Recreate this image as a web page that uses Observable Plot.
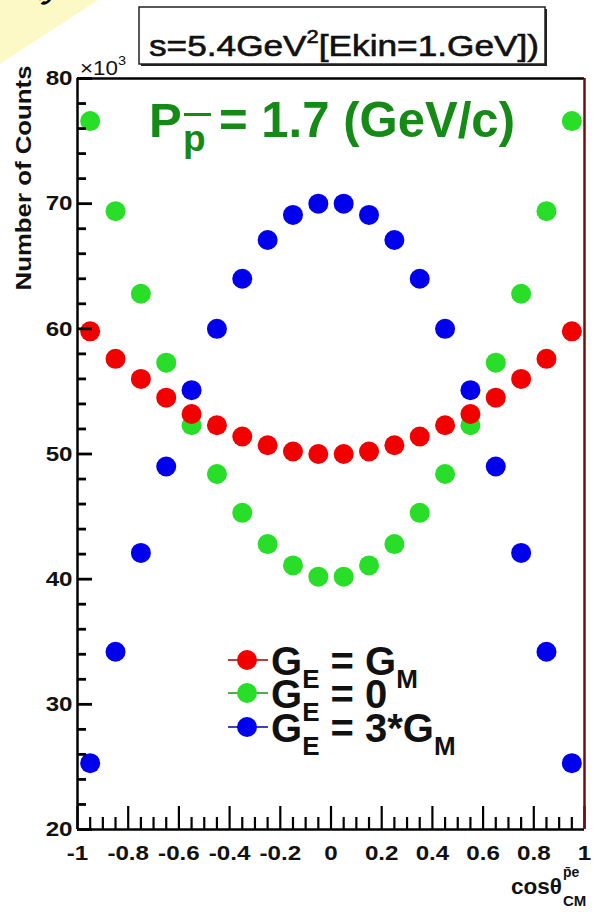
<!DOCTYPE html>
<html><head><meta charset="utf-8">
<script src="https://cdn.jsdelivr.net/npm/d3@7"></script>
<script src="https://cdn.jsdelivr.net/npm/@observablehq/plot@0.6"></script>
<style>
body{margin:0;background:#fff;}
#wrap{position:relative;width:595px;height:914px;overflow:hidden;}
</style></head><body>
<div id="wrap"></div>
<script>
// angle bins (cos theta, CM)
const cosTheta = [-0.95,-0.85,-0.75,-0.65,-0.55,-0.45,-0.35,-0.25,-0.15,-0.05,0.05,0.15,0.25,0.35,0.45,0.55,0.65,0.75,0.85,0.95];
// counts in units of 10^3
const countsGEeqGM = [59.8,57.6,56.0,54.5,53.2,52.3,51.4,50.7,50.2,50.0,50.0,50.2,50.7,51.4,52.3,53.2,54.5,56.0,57.6,59.8];
const countsGE0 = [76.6,69.4,62.8,57.3,52.3,48.4,45.3,42.8,41.1,40.2,40.2,41.1,42.8,45.3,48.4,52.3,57.3,62.8,69.4,76.6];
const countsGE3GM = [25.3,34.2,42.1,49.0,55.1,60.0,64.0,67.1,69.1,70.0,70.0,69.1,67.1,64.0,60.0,55.1,49.0,42.1,34.2,25.3];
const seriesKeys = ["GE=GM","GE=0","GE=3GM"];
const seriesColors = ["#f20000","#28de28","#0000ec"];
const legendParts = [["G","E"," = G","M"],["G","E"," = 0",""],["G","E"," = 3*G","M"]];
const xTickValues = [-1,-0.8,-0.6,-0.4,-0.2,0,0.2,0.4,0.6,0.8,1];
const yTickValues = [20,30,40,50,60,70,80];

const seriesValues = [countsGEeqGM, countsGE0, countsGE3GM];
const drawOrder = [1,2,0];
const rows = [];
for (const s of drawOrder) cosTheta.forEach((c,i)=>rows.push({x:c, y:seriesValues[s][i], series:seriesKeys[s]}));

const xMinor = d3.range(-1, 1.0001, 0.05).map(v=>+v.toFixed(2)).filter(v => !xTickValues.includes(v));
const yMinor = d3.range(20, 80.001, 2).filter(v => !yTickValues.includes(v));
const fmt = d => String(+(+d).toFixed(1));
const font = '"Liberation Sans",Arial,Helvetica,sans-serif';

const W = 595, H = 914, mT = 78, mB = 85, mL = 77, mR = 11;
const fw = W - mL - mR, fh = H - mT - mB;

const chart = Plot.plot({
  width: W, height: H,
  marginTop: mT, marginBottom: mB, marginLeft: mL, marginRight: mR,
  style: {fontFamily: font, background: "#fff", color: "#111"},
  x: {domain: [-1, 1]},
  y: {domain: [20, 80]},
  color: {domain: seriesKeys, range: seriesColors},
  marks: [
    Plot.axisX({ticks: xTickValues, tickSize: 0, tickPadding: 16, tickFormat: fmt, label: null, fontSize: 21, fontWeight: "bold", fill: "#111"}),
    Plot.axisY({ticks: yTickValues, tickSize: 0, tickPadding: 5, tickFormat: fmt, label: null, fontSize: 21, fontWeight: "bold", fill: "#111"}),
    Plot.dot(rows, {x: "x", y: "y", r: 10, fill: "series", stroke: null}),
    // inward ticks
    Plot.ruleX(xMinor, {x: d => d, insetTop: fh - 12, stroke: "#000", strokeWidth: 2.2}),
    Plot.ruleX(xTickValues, {x: d => d, insetTop: fh - 23, stroke: "#000", strokeWidth: 2.2}),
    Plot.ruleY(yMinor, {y: d => d, insetRight: fw - 9, stroke: "#000", strokeWidth: 2.8}),
    Plot.ruleY(yTickValues, {y: d => d, insetRight: fw - 15, stroke: "#000", strokeWidth: 2.8}),
    // frame
    Plot.ruleX([-1], {stroke: "#000", strokeWidth: 2.5}),
    Plot.ruleY([20, 80], {stroke: "#000", strokeWidth: 2.5}),
    Plot.ruleX([1], {stroke: "#6e1010", strokeWidth: 2.5})
  ]
});
document.getElementById("wrap").appendChild(chart);

// stretch tick labels slightly horizontally (as in the reference rendering)
chart.querySelectorAll('g[aria-label="x-axis tick label"] text, g[aria-label="y-axis tick label"] text').forEach(t => {
  t.setAttribute("transform", (t.getAttribute("transform") || "") + " scale(1.15,1)");
});

const svg = d3.select(chart);

// annotations
const ov = svg.append("g").attr("font-family", font).attr("fill", "#111").attr("text-anchor", "start");

// yellow corner note
ov.append("path").attr("d", "M0,0H98L0,64Z").attr("fill", "#fdf9c6");
ov.append("text").attr("transform", "translate(38,3) rotate(-36)").attr("font-size", 28).attr("font-weight", "bold").attr("fill", "#000").text("g");

// title box
ov.append("rect").attr("x", 141).attr("y", 9).attr("width", 406).attr("height", 57).attr("fill", "#222");
ov.append("rect").attr("x", 139).attr("y", 7).attr("width", 406).attr("height", 57).attr("fill", "#fff").attr("stroke", "#222").attr("stroke-width", 1.5);
const tt = ov.append("text").attr("x", 149).attr("y", 56).attr("font-size", 29).attr("stroke", "#111").attr("stroke-width", 0.6)
  .attr("textLength", 390).attr("lengthAdjust", "spacingAndGlyphs");
tt.append("tspan").text("s=5.4GeV");
tt.append("tspan").attr("font-size", 18).attr("dy", -13).text("2");
tt.append("tspan").attr("dy", 13).text("[Ekin=1.GeV])");

// x10^3
const xt = ov.append("text").attr("x", 80).attr("y", 75).attr("font-size", 20).attr("textLength", 46).attr("lengthAdjust", "spacingAndGlyphs");
xt.append("tspan").text("×10");
xt.append("tspan").attr("font-size", 13).attr("dy", -10).text("3");

// y label
ov.append("text").attr("transform", "translate(31,178) rotate(-90)").attr("text-anchor", "middle")
  .attr("font-size", 22).attr("font-weight", "bold").attr("textLength", 225).attr("lengthAdjust", "spacingAndGlyphs").text("Number of Counts");

// x label
const xl = ov.append("g").attr("font-weight", "bold");
xl.append("text").attr("x", 511).attr("y", 894).attr("font-size", 22).attr("textLength", 51).attr("lengthAdjust", "spacingAndGlyphs").text("cosθ");
xl.append("text").attr("x", 563).attr("y", 877).attr("font-size", 14).text("p̄e");
xl.append("text").attr("x", 563).attr("y", 906).attr("font-size", 15).text("CM");

// momentum annotation
const green = "#168a16";
const pg = ov.append("g").attr("fill", green).attr("font-weight", "bold");
pg.append("text").attr("x", 149).attr("y", 137).attr("font-size", 49).text("P");
pg.append("text").attr("x", 183).attr("y", 151).attr("font-size", 37).text("p");
pg.append("rect").attr("x", 184).attr("y", 113).attr("width", 27).attr("height", 3);
pg.append("text").attr("x", 219).attr("y", 137).attr("font-size", 50).attr("textLength", 296).attr("lengthAdjust", "spacingAndGlyphs").text("= 1.7 (GeV/c)");

// legend
const rowY = [660, 693, 727];
seriesKeys.forEach((k, i) => {
  const g = ov.append("g");
  g.append("line").attr("x1", 228).attr("x2", 268).attr("y1", rowY[i]).attr("y2", rowY[i]).attr("stroke", d3.color(seriesColors[i]).darker(1.2)).attr("stroke-width", 1.5);
  g.append("circle").attr("cx", 247).attr("cy", rowY[i]).attr("r", 10).attr("fill", seriesColors[i]);
  const p = legendParts[i];
  const t = g.append("text").attr("x", 271).attr("y", rowY[i] + 15).attr("font-size", 40).attr("font-weight", "bold");
  t.append("tspan").text(p[0]);
  t.append("tspan").attr("font-size", 26).attr("dy", 13).text(p[1]);
  t.append("tspan").attr("dy", -13).text(p[2]);
  if (p[3]) t.append("tspan").attr("font-size", 26).attr("dy", 13).text(p[3]);
});
</script>
</body></html>
